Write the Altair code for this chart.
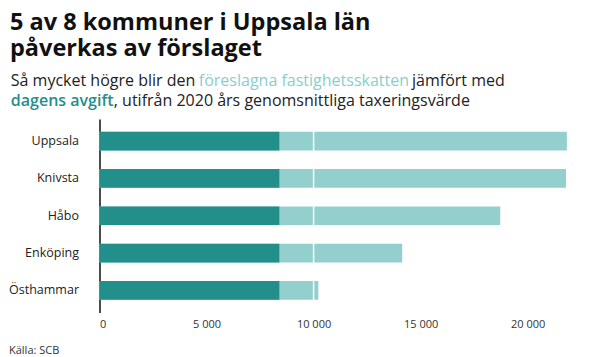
import altair as alt
import pandas as pd

kommuner = ["Uppsala", "Knivsta", "Håbo", "Enköping", "Östhammar"]
dagens_avgift = [8400, 8400, 8400, 8400, 8400]
foreslagen_skatt = [21830, 21790, 18720, 14140, 10220]
x_ticks = [0, 5000, 10000, 15000, 20000]

title_lines = ["5 av 8 kommuner i Uppsala län", "påverkas av förslaget"]
sub_line1 = ["Så mycket högre blir den", "föreslagna fastighetsskatten", "jämfört med"]
sub_line2 = ["dagens avgift", ", utifrån 2020 års genomsnittliga taxeringsvärde"]
source_text = "Källa: SCB"

DARK = "#238f8a"
LIGHT = "#92cfcd"
FONT = "Open Sans"

df = pd.DataFrame({"kommun": kommuner, "dagens": dagens_avgift, "foreslagen": foreslagen_skatt})

W = 471
H = 193.5

y_enc = alt.Y(
    "kommun:N",
    sort=kommuner,
    title=None,
    scale=alt.Scale(paddingInner=0.5, paddingOuter=0.34),
    axis=alt.Axis(
        domain=True, domainColor="#111111", domainWidth=1.5, ticks=False,
        labelFont=FONT, labelFontSize=12.5, labelColor="#222222", labelPadding=21,
    ),
)
x_scale = alt.Scale(domain=[0, 22000], nice=False)
x_axis = alt.Axis(
    values=x_ticks, domain=False, ticks=False, grid=False,
    labelFont=FONT, labelFontSize=11, labelColor="#333333", labelPadding=6,
    labelExpr="replace(format(datum.value, ','), ',', ' ')",
)

base = alt.Chart(df)
light = base.mark_bar(color=LIGHT).encode(
    x=alt.X("foreslagen:Q", scale=x_scale, axis=x_axis, title=None), y=y_enc
)
dark = base.mark_bar(color=DARK).encode(x=alt.X("dagens:Q", scale=x_scale), y=y_enc)
sep = alt.Chart(pd.DataFrame({"v": [10000]})).mark_rule(color="white", strokeWidth=1.5).encode(
    x=alt.X("v:Q", scale=x_scale)
)

OX = 99.5
OY = 119.0


def txt(s, px, py, size, color="#111111", weight="normal"):
    return alt.Chart(pd.DataFrame({"t": [s]})).mark_text(
        align="left", baseline="alphabetic", font=FONT, fontSize=size,
        fontWeight=weight, color=color,
    ).encode(text="t:N", x=alt.value(px - OX), y=alt.value(py - OY))


texts = [
    txt(title_lines[0], 10, 30, 23.5, "#111111", "bold"),
    txt(title_lines[1], 10, 56, 23.5, "#111111", "bold"),
    txt(sub_line1[0], 10.8, 86, 16, "#222222"),
    txt(sub_line1[1], 198.8, 86, 16, "#88cfcc"),
    txt(sub_line1[2], 412, 86, 16, "#222222"),
    txt(sub_line2[0], 10.8, 106, 16, "#1f8f8a", 600),
    txt(sub_line2[1], 113.8, 106, 16, "#222222"),
    txt(source_text, 9, 354, 11, "#333333"),
]

chart = alt.layer(light, dark, sep, *texts).properties(
    width=W, height=H,
    autosize=alt.AutoSizeParams(type="none"),
    padding={"left": OX - 8, "top": OY - 8, "right": 21, "bottom": 45},
).configure_view(strokeWidth=0)

chart.save("out.html", embed_options={"renderer": "svg", "actions": False})
